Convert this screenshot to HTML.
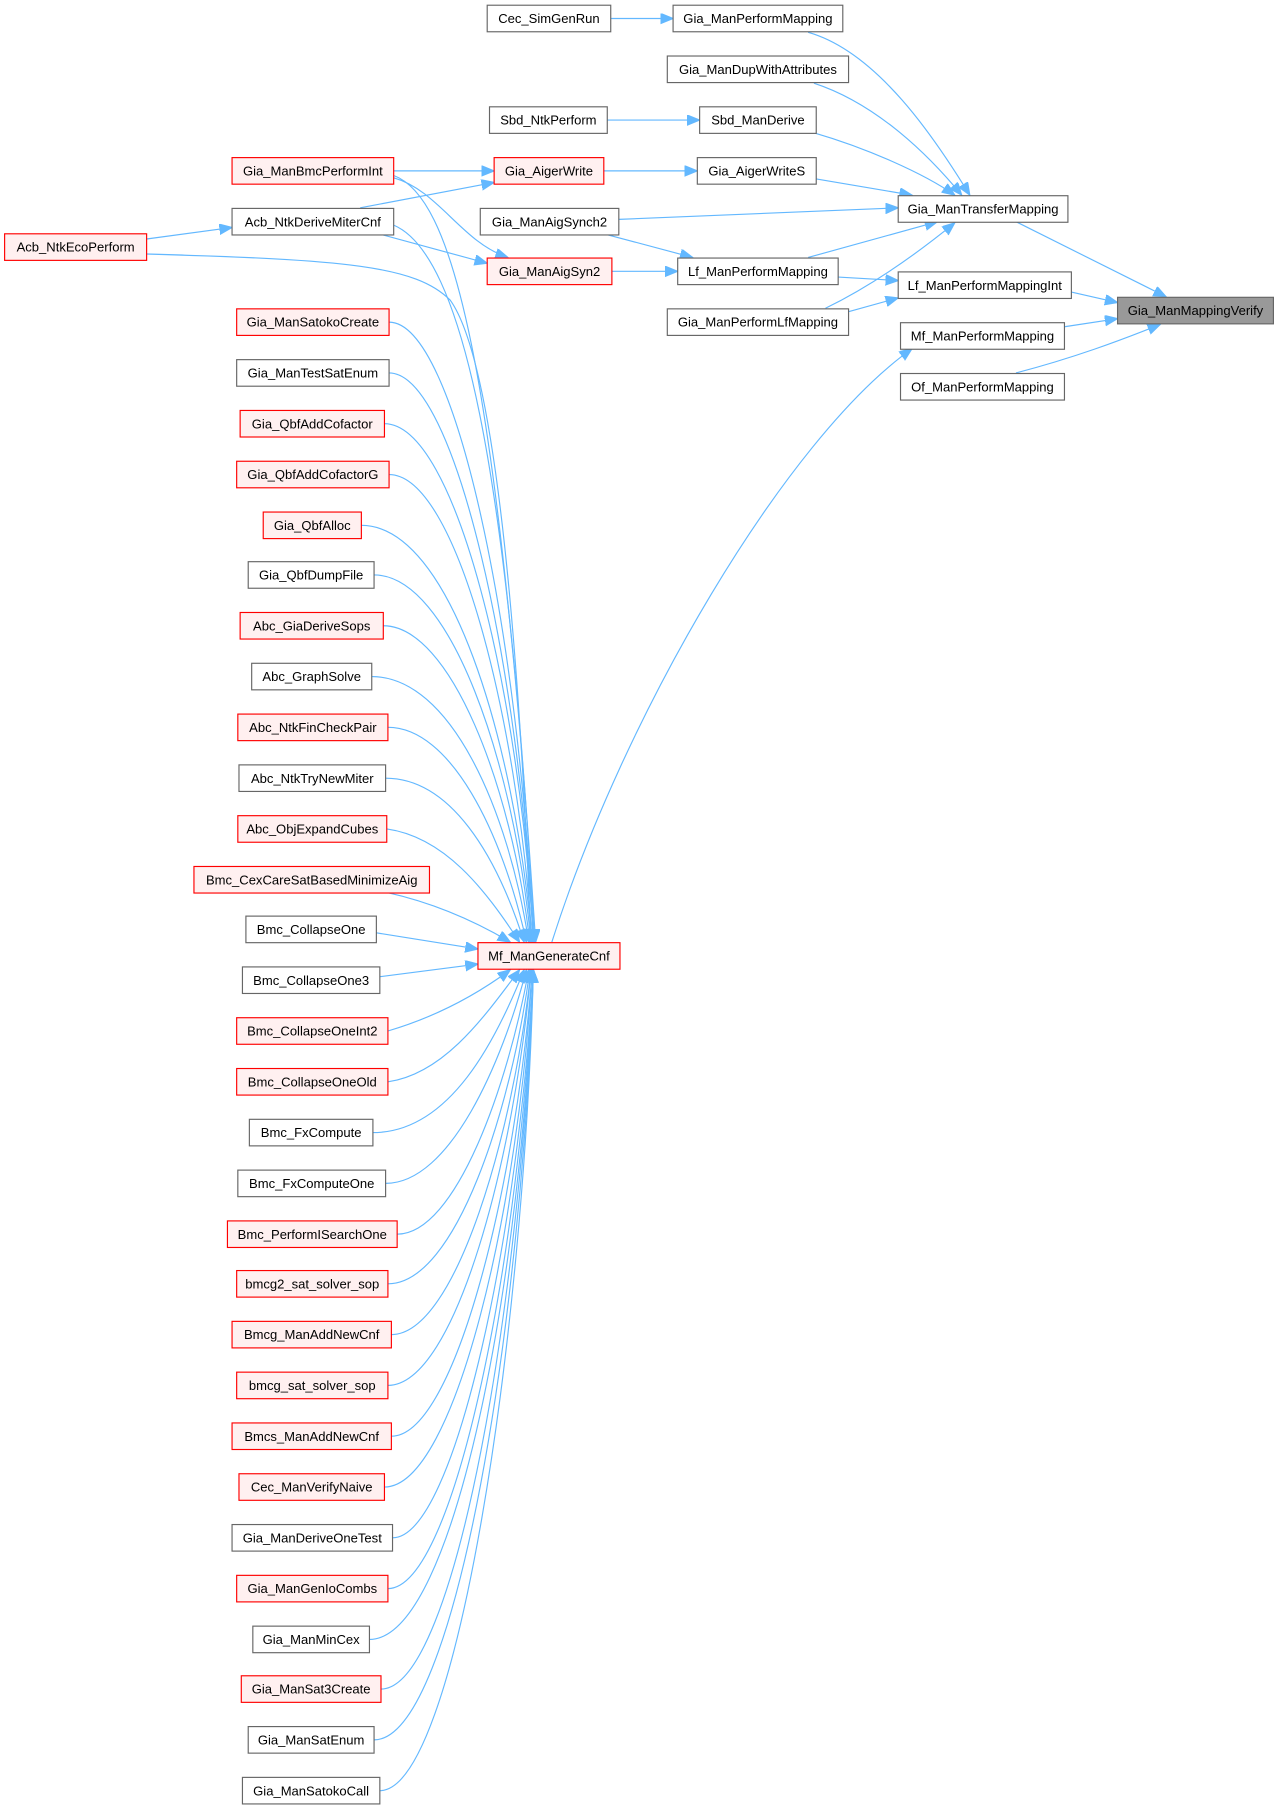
<!DOCTYPE html>
<html><head><meta charset="utf-8"><style>
html,body{margin:0;padding:0;background:#fff;}
svg{display:block;}
text{font-family:"Liberation Sans",Arial,sans-serif;font-size:11.3px;fill:#000;text-anchor:middle;}
.n rect{fill:#fff;stroke:#666;stroke-width:1;}
.r rect{fill:#fff0f0;stroke:#f00;stroke-width:1;}
.g rect{fill:#999;stroke:#666;stroke-width:1;}
path.e{fill:none;stroke:#63b8ff;stroke-width:1;marker-end:url(#a);}
</style></head><body>
<svg width="1280" height="1811" viewBox="0 0 1108.7 1568.6" xmlns="http://www.w3.org/2000/svg">
<defs><marker id="a" markerUnits="userSpaceOnUse" markerWidth="12" markerHeight="10" refX="11" refY="4.5" orient="auto"><path d="M0,0 L11,4.5 L0,9 Z" fill="#63b8ff" stroke="#63b8ff"/></marker></defs>

<!-- edges -->
<path class="e" d="M529,16 L583,16"/>
<path class="e" d="M700,28 C760,45 810,120 840,169"/>
<path class="e" d="M705,72 C760,90 805,135 833,169"/>
<path class="e" d="M526,104 L606,104"/>
<path class="e" d="M705,115 C750,128 800,150 827,169"/>
<path class="e" d="M523,148 L604,148"/>
<path class="e" d="M707,155 L790,169"/>
<path class="e" d="M536,190 L778,180"/>
<path class="e" d="M700,223 L812,192"/>
<path class="e" d="M715,267 C760,245 800,215 827,193"/>
<path class="e" d="M880,192 L1010,257"/>
<path class="e" d="M928,253 L968,262"/>
<path class="e" d="M922,283 L968,276"/>
<path class="e" d="M880,323 C930,310 970,295 1005,281"/>
<path class="e" d="M726,240 L778,243"/>
<path class="e" d="M735,270 L778,258"/>
<path class="e" d="M530,235 L587,235"/>
<path class="e" d="M525,203 L600,223"/>
<path class="e" d="M341,148 L428,148"/>
<path class="e" d="M312,180 L428,158"/>
<path class="e" d="M341,154 C380,165 400,210 440,223"/>
<path class="e" d="M330,203 L422,228"/>
<path class="e" d="M127,207 L201,197"/>
<path class="e" d="M127,220 C300,225 360,230 390,260 C440,330 455,700 460,816"/>
<path class="e" d="M341,152 C390,170 430,300 464,816"/>
<path class="e" d="M341,195 C400,220 440,400 463,816"/>
<path class="e" d="M478,816 C540,620 680,380 790,302"/>

<path class="e" d="M337,279 C395,279 450,550 462,816"/>
<path class="e" d="M337,323 C395,323 450,580 462,816"/>
<path class="e" d="M333,367 C395,367 450,600 462,816"/>
<path class="e" d="M337,411 C395,411 448,620 461,816"/>
<path class="e" d="M313,455 C390,455 445,640 461,816"/>
<path class="e" d="M324,498 C390,498 445,660 460,816"/>
<path class="e" d="M332,542 C390,542 443,680 459,816"/>
<path class="e" d="M322,586 C390,586 440,700 458,816"/>
<path class="e" d="M336,630 C390,630 435,720 456,816"/>
<path class="e" d="M334,674 C390,674 430,740 454,816"/>
<path class="e" d="M335,718 C385,725 420,770 450,816"/>
<path class="e" d="M335,773 C380,783 415,800 442,816"/>
<path class="e" d="M326,808 L414,822"/>
<path class="e" d="M329,846 L414,835"/>
<path class="e" d="M336,893 C380,880 415,860 442,840"/>
<path class="e" d="M336,937 C385,930 420,880 450,840"/>
<path class="e" d="M323,981 C390,981 430,900 454,840"/>
<path class="e" d="M334,1025 C390,1025 435,920 456,840"/>
<path class="e" d="M344,1069 C395,1069 440,940 458,840"/>
<path class="e" d="M336,1112 C395,1112 443,960 459,840"/>
<path class="e" d="M339,1156 C395,1156 445,980 460,840"/>
<path class="e" d="M336,1200 C395,1200 446,1000 460,840"/>
<path class="e" d="M339,1244 C395,1244 448,1020 461,840"/>
<path class="e" d="M333,1288 C395,1288 450,1040 461,840"/>
<path class="e" d="M340,1332 C395,1332 450,1060 462,840"/>
<path class="e" d="M336,1376 C395,1376 451,1080 462,840"/>
<path class="e" d="M320,1420 C395,1420 452,1100 462,840"/>
<path class="e" d="M330,1463 C395,1463 452,1120 462,840"/>
<path class="e" d="M324,1507 C395,1507 453,1140 462,840"/>
<path class="e" d="M329,1551 C395,1551 454,1160 462,840"/>

<!-- nodes -->
<g class="g"><rect x="968" y="257.5" width="135" height="23"/><text x="1035.5" y="273">Gia_ManMappingVerify</text></g>
<g class="n"><rect x="778" y="169.5" width="147" height="23"/><text x="851.5" y="185">Gia_ManTransferMapping</text></g>
<g class="n"><rect x="778" y="235.5" width="150" height="23"/><text x="853" y="251">Lf_ManPerformMappingInt</text></g>
<g class="n"><rect x="780" y="279.5" width="142" height="23"/><text x="851" y="295">Mf_ManPerformMapping</text></g>
<g class="n"><rect x="780" y="323.5" width="142" height="23"/><text x="851" y="339">Of_ManPerformMapping</text></g>
<g class="n"><rect x="583" y="4.5" width="147" height="23"/><text x="656.5" y="20">Gia_ManPerformMapping</text></g>
<g class="n"><rect x="578" y="48.5" width="157" height="23"/><text x="656.5" y="64">Gia_ManDupWithAttributes</text></g>
<g class="n"><rect x="606" y="92.5" width="101" height="23"/><text x="656.5" y="108">Sbd_ManDerive</text></g>
<g class="n"><rect x="604" y="136.5" width="103" height="23"/><text x="655.5" y="152">Gia_AigerWriteS</text></g>
<g class="n"><rect x="587" y="223.5" width="139" height="23"/><text x="656.5" y="239">Lf_ManPerformMapping</text></g>
<g class="n"><rect x="578" y="267.5" width="157" height="23"/><text x="656.5" y="283">Gia_ManPerformLfMapping</text></g>
<g class="n"><rect x="422" y="4.5" width="107" height="23"/><text x="475.5" y="20">Cec_SimGenRun</text></g>
<g class="n"><rect x="424" y="92.5" width="102" height="23"/><text x="475" y="108">Sbd_NtkPerform</text></g>
<g class="r"><rect x="428" y="136.5" width="95" height="23"/><text x="475.5" y="152">Gia_AigerWrite</text></g>
<g class="n"><rect x="416" y="180.5" width="120" height="23"/><text x="476" y="196">Gia_ManAigSynch2</text></g>
<g class="r"><rect x="422" y="223.5" width="108" height="23"/><text x="476" y="239">Gia_ManAigSyn2</text></g>
<g class="r"><rect x="201" y="136.5" width="140" height="23"/><text x="271" y="152">Gia_ManBmcPerformInt</text></g>
<g class="n"><rect x="201" y="180.5" width="140" height="23"/><text x="271" y="196">Acb_NtkDeriveMiterCnf</text></g>
<g class="r"><rect x="4" y="202.5" width="123" height="23"/><text x="65.5" y="218">Acb_NtkEcoPerform</text></g>
<g class="r"><rect x="414" y="816.5" width="123" height="23"/><text x="475.5" y="832">Mf_ManGenerateCnf</text></g>

<g class="r"><rect x="205" y="267.5" width="132" height="23"/><text x="271" y="283">Gia_ManSatokoCreate</text></g>
<g class="n"><rect x="205" y="311.5" width="132" height="23"/><text x="271" y="327">Gia_ManTestSatEnum</text></g>
<g class="r"><rect x="208" y="355.5" width="125" height="23"/><text x="270.5" y="371">Gia_QbfAddCofactor</text></g>
<g class="r"><rect x="205" y="399.5" width="132" height="23"/><text x="271" y="415">Gia_QbfAddCofactorG</text></g>
<g class="r"><rect x="228" y="443.5" width="85" height="23"/><text x="270.5" y="459">Gia_QbfAlloc</text></g>
<g class="n"><rect x="215" y="486.5" width="109" height="23"/><text x="269.5" y="502">Gia_QbfDumpFile</text></g>
<g class="r"><rect x="208" y="530.5" width="124" height="23"/><text x="270" y="546">Abc_GiaDeriveSops</text></g>
<g class="n"><rect x="218" y="574.5" width="104" height="23"/><text x="270" y="590">Abc_GraphSolve</text></g>
<g class="r"><rect x="206" y="618.5" width="130" height="23"/><text x="271" y="634">Abc_NtkFinCheckPair</text></g>
<g class="n"><rect x="207" y="662.5" width="127" height="23"/><text x="270.5" y="678">Abc_NtkTryNewMiter</text></g>
<g class="r"><rect x="206" y="706.5" width="129" height="23"/><text x="270.5" y="722">Abc_ObjExpandCubes</text></g>
<g class="r"><rect x="168" y="750.5" width="204" height="23"/><text x="270" y="766">Bmc_CexCareSatBasedMinimizeAig</text></g>
<g class="n"><rect x="213" y="793.5" width="113" height="23"/><text x="269.5" y="809">Bmc_CollapseOne</text></g>
<g class="n"><rect x="210" y="837.5" width="119" height="23"/><text x="269.5" y="853">Bmc_CollapseOne3</text></g>
<g class="r"><rect x="205" y="881.5" width="131" height="23"/><text x="270.5" y="897">Bmc_CollapseOneInt2</text></g>
<g class="r"><rect x="205" y="925.5" width="131" height="23"/><text x="270.5" y="941">Bmc_CollapseOneOld</text></g>
<g class="n"><rect x="216" y="969.5" width="107" height="23"/><text x="269.5" y="985">Bmc_FxCompute</text></g>
<g class="n"><rect x="206" y="1013.5" width="128" height="23"/><text x="270" y="1029">Bmc_FxComputeOne</text></g>
<g class="r"><rect x="197" y="1057.5" width="147" height="23"/><text x="270.5" y="1073">Bmc_PerformISearchOne</text></g>
<g class="r"><rect x="205" y="1100.5" width="131" height="23"/><text x="270.5" y="1116">bmcg2_sat_solver_sop</text></g>
<g class="r"><rect x="201" y="1144.5" width="138" height="23"/><text x="270" y="1160">Bmcg_ManAddNewCnf</text></g>
<g class="r"><rect x="205" y="1188.5" width="131" height="23"/><text x="270.5" y="1204">bmcg_sat_solver_sop</text></g>
<g class="r"><rect x="201" y="1232.5" width="138" height="23"/><text x="270" y="1248">Bmcs_ManAddNewCnf</text></g>
<g class="r"><rect x="207" y="1276.5" width="126" height="23"/><text x="270" y="1292">Cec_ManVerifyNaive</text></g>
<g class="n"><rect x="201" y="1320.5" width="139" height="23"/><text x="270.5" y="1336">Gia_ManDeriveOneTest</text></g>
<g class="r"><rect x="205" y="1364.5" width="131" height="23"/><text x="270.5" y="1380">Gia_ManGenIoCombs</text></g>
<g class="n"><rect x="219" y="1408.5" width="101" height="23"/><text x="269.5" y="1424">Gia_ManMinCex</text></g>
<g class="r"><rect x="209" y="1451.5" width="121" height="23"/><text x="269.5" y="1467">Gia_ManSat3Create</text></g>
<g class="n"><rect x="215" y="1495.5" width="109" height="23"/><text x="269.5" y="1511">Gia_ManSatEnum</text></g>
<g class="n"><rect x="210" y="1539.5" width="119" height="23"/><text x="269.5" y="1555">Gia_ManSatokoCall</text></g>
</svg>
</body></html>
